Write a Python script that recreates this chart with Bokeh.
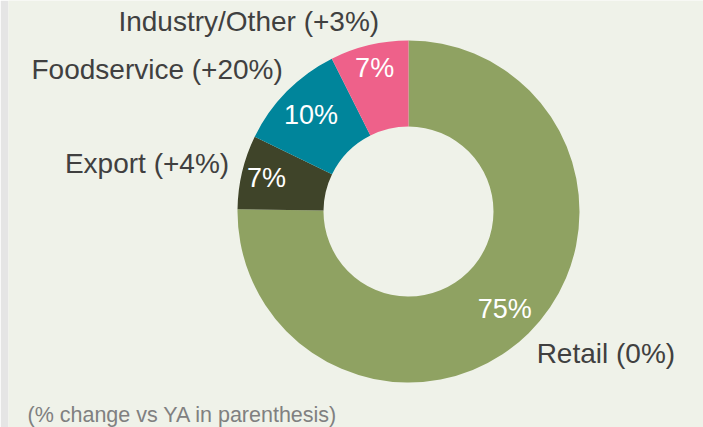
import numpy as np
from bokeh.plotting import figure
from bokeh.models import ColumnDataSource, Range1d
from bokeh.embed import file_html
from bokeh.resources import INLINE

# ---- data ----
categories = ["Retail", "Export", "Foodservice", "Industry/Other"]
shares = [75.2, 7.0, 10.4, 7.4]          # % share of volume
changes = ["0%", "+4%", "+20%", "+3%"]   # % change vs YA
colors = ["#8fa262", "#3f4429", "#00859b", "#ee618a"]
footnote = "(% change vs YA in parenthesis)"

# ---- layout / style (not data) ----
W, H = 695, 427
BG = "#eff2e9"
cx, cy = 400, 216
r_out, r_in = 171, 85
pct_r = [137, 146, 137, 147]
lab_dx = [8, -13, -4, 10]
lab_dy = [-20, 8.6, 22, 23.6]
lab_align = ["left", "right", "right", "right"]

vals = np.array(shares, dtype=float)
frac = vals / vals.sum()
cum = np.concatenate([[0], np.cumsum(frac)])
start_deg = 90 - cum[:-1] * 360
end_deg = 90 - cum[1:] * 360
mid = np.radians((start_deg + end_deg) / 2)

src = ColumnDataSource(dict(
    start=np.radians(start_deg), end=np.radians(end_deg), color=colors,
    x=[cx] * 4, y=[cy] * 4,
))

p = figure(width=W + 8, height=H, output_backend="svg", toolbar_location=None,
           x_range=Range1d(0, W), y_range=Range1d(0, H),
           min_border=0, min_border_left=8,
           background_fill_color=BG, border_fill_color="#e5e5e5")
p.axis.visible = False
p.grid.visible = False
p.outline_line_color = None

p.annular_wedge(x="x", y="y", inner_radius=r_in, outer_radius=r_out,
                start_angle="start", end_angle="end", direction="clock",
                fill_color="color", line_color=None, source=src)

pct_src = ColumnDataSource(dict(
    x=cx + np.array(pct_r) * np.cos(mid),
    y=cy + np.array(pct_r) * np.sin(mid),
    t=[f"{round(v)}%" for v in shares],
))
p.text(x="x", y="y", text="t", source=pct_src, text_color="white",
       text_font_size="27px", text_font={"value": "Liberation Sans"},
       text_align="center", text_baseline="middle")

lab_src = ColumnDataSource(dict(
    x=cx + r_out * np.cos(mid) + np.array(lab_dx),
    y=cy + r_out * np.sin(mid) + np.array(lab_dy),
    t=[f"{c} ({ch})" for c, ch in zip(categories, changes)],
    a=lab_align,
))
p.text(x="x", y="y", text="t", source=lab_src, text_color="#404040",
       text_font_size="28px", text_font={"value": "Liberation Sans"},
       text_align="a", text_baseline="middle")

p.text(x=[19], y=[13], text=[footnote], text_color="#808080",
       text_font_size="21.5px", text_font={"value": "Liberation Sans"},
       text_align="left", text_baseline="middle")

html = file_html(p, INLINE)
html = html.replace("<body>", '<body style="margin:0;background:#e5e5e5;">', 1)
open("out.html", "w").write(html)
